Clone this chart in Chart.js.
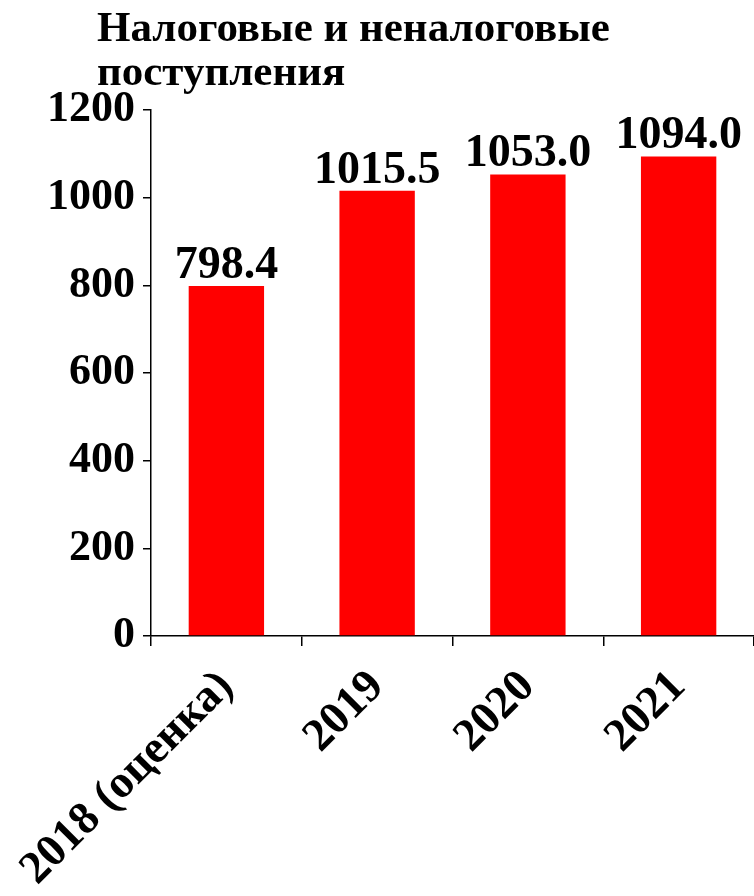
<!DOCTYPE html>
<html lang="ru">
<head>
  <meta charset="UTF-8" />
  <title>Налоговые и неналоговые поступления</title>
  <script src="https://cdn.jsdelivr.net/npm/chart.js"></script>
  <style>
    body { margin: 0; background: #fff; }
    .wrap { position: relative; width: 754px; height: 896px; }
    .titolo {
      position: absolute;
      left: 97px;
      top: 5px;
      font: bold 43px "Liberation Serif", serif;
      line-height: 44px;
      color: #000;
    }
    canvas { position: absolute; left: 0; top: 0; }
  </style>
</head>
<body>

<div class="wrap">
  <canvas id="grafico" width="754" height="896"></canvas>
  <div class="titolo">Налоговые и неналоговые<br>поступления</div>
</div>

<script>
  // Dati
  const categorie = ['2018 (оценка)', '2019', '2020', '2021'];
  const valori = [798.4, 1015.5, 1053.0, 1094.0];
  const yMin = 0;
  const yMax = 1200;
  const yPasso = 200;

  const fontSerif = 'Liberation Serif, serif';

  // etichette sopra le barre
  const etichetteBarre = {
    id: 'etichetteBarre',
    afterDatasetsDraw(chart) {
      const ctx = chart.ctx;
      const meta = chart.getDatasetMeta(0);
      ctx.save();
      ctx.font = 'bold 46px ' + fontSerif;
      ctx.fillStyle = '#000';
      ctx.textAlign = 'center';
      ctx.textBaseline = 'alphabetic';
      meta.data.forEach((bar, i) => {
        ctx.fillText(valori[i].toFixed(1), bar.x, bar.y - 8);
      });
      ctx.restore();
    }
  };

  new Chart(document.getElementById('grafico'), {
    type: 'bar',
    data: {
      labels: categorie,
      datasets: [{
        data: valori,
        backgroundColor: '#ff0000',
        borderWidth: 0,
        barPercentage: 1,
        categoryPercentage: 0.5
      }]
    },
    options: {
      responsive: false,
      animation: false,
      layout: { padding: { top: 110, right: 0, bottom: 0, left: 0 } },
      plugins: {
        legend: { display: false },
        tooltip: { enabled: false }
      },
      scales: {
        x: {
          afterFit: s => {
            s.height = 260;
            s.paddingLeft = 0;
            s.paddingRight = 0;
          },
          grid: { drawOnChartArea: false, drawTicks: true, tickLength: 10, color: '#000', lineWidth: 1.5 },
          border: { display: true, color: '#000', width: 1.5 },
          ticks: {
            minRotation: 45,
            maxRotation: 45,
            color: '#000',
            padding: 14,
            font: { family: fontSerif, size: 46, weight: 'bold' }
          }
        },
        y: {
          min: yMin,
          max: yMax,
          afterFit: s => { s.width = 151; },
          grid: { drawOnChartArea: false, drawTicks: true, tickLength: 8, color: '#000', lineWidth: 1.5 },
          border: { display: true, color: '#000', width: 1.5 },
          ticks: {
            stepSize: yPasso,
            color: '#000',
            padding: 8,
            callback: v => String(v),
            font: { family: fontSerif, size: 44, weight: 'bold' }
          }
        }
      }
    },
    plugins: [etichetteBarre]
  });
</script>

</body>
</html>
